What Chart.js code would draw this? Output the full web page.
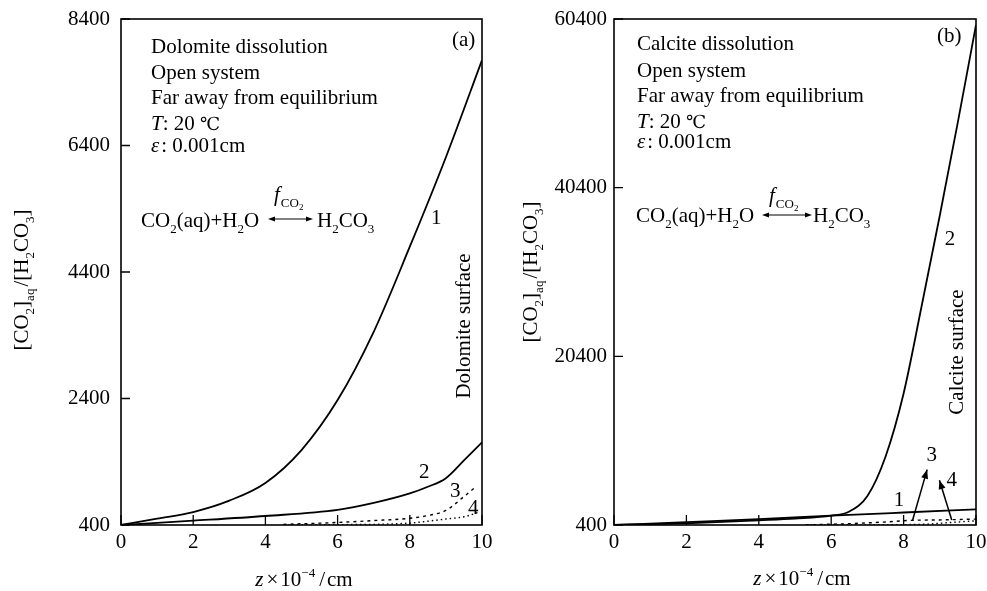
<!DOCTYPE html>
<html>
<head>
<meta charset="utf-8">
<script src="https://cdn.jsdelivr.net/npm/chart.js@4.4.1/dist/chart.umd.min.js"></script>
<style>
html, body { margin: 0; padding: 0; background: #fff; }
#wrap { position: relative; width: 987px; height: 591px; overflow: hidden; }
canvas { position: absolute; top: 0; }
#left { left: 0; }
#right { left: 493px; }
</style>
</head>
<body>
<div id="wrap">
  <canvas id="left" width="493" height="591"></canvas>
  <canvas id="right" width="494" height="591"></canvas>
</div>
<script>
const FONT = '"Liberation Serif", "Times New Roman", serif';

// Tick labels
const xTicks = [0, 2, 4, 6, 8, 10];
const dolYTicks = [400, 2400, 4400, 6400, 8400];
const calYTicks = [400, 20400, 40400, 60400];

// (a) Dolomite: z (x10^-4 cm) and [CO2]aq/[H2CO3]
const dolZ1 = [0, 1, 2, 3, 4, 5, 6, 7, 8, 9, 10];
const dolV1 = [400, 500, 605, 785, 1065, 1585, 2375, 3455, 4800, 6215, 7750];
const dolZ2 = [0, 2, 4, 6, 7, 8, 8.5, 9, 9.5, 10];
const dolV2 = [400, 468, 542, 640, 750, 900, 1005, 1140, 1420, 1707];
const dolZ3 = [4.5, 6, 7, 8, 8.5, 9, 9.5, 9.8];
const dolV3 = [410, 440, 470, 506, 550, 630, 850, 990];
const dolZ4 = [4.5, 6, 8, 8.5, 9, 9.5, 9.9];
const dolV4 = [400, 405, 430, 460, 495, 530, 600];

// (b) Calcite
const calZ1 = [0, 2, 4, 6, 8, 10];
const calV1 = [400, 740, 1090, 1500, 1880, 2250];
const calZ2 = [0, 2, 4, 5, 6, 6.5, 7, 7.5, 8, 8.5, 9, 9.5, 10];
const calV2 = [400, 600, 950, 1150, 1500, 2000, 3850, 8500, 16000, 26400, 37100, 48200, 59700];
const calZ3 = [5.3, 6.5, 7.5, 8.2, 9, 10];
const calV3 = [420, 560, 760, 950, 1000, 1100];
const calZ4 = [5.3, 7, 8.5, 9.3, 10];
const calV4 = [400, 420, 480, 700, 900];

function pts(xs, ys) {
    return xs.map((x, i) => ({ x: x, y: ys[i] }));
}

function fontFor(kind, size) {
    if (kind === 'i') return `italic ${size}px ${FONT}`;
    if (kind === 'sub' || kind === 'sup') return `${Math.round(size * 0.62)}px ${FONT}`;
    if (kind === 'sub2') return `${Math.round(size * 0.45)}px ${FONT}`;
    if (kind === 'deg') return `${Math.round(size * 0.85)}px "DejaVu Serif", ${FONT}`;
    return `${size}px ${FONT}`;
}
const SHIFT = { sub: 0.28, sup: -0.42, sub2: 0.42 };

// parts: [text, kind, extraGap]
function drawRich(ctx, parts, x, y, size, align) {
    const widths = parts.map(p => {
        ctx.font = fontFor(p[1] || '', size);
        return ctx.measureText(p[0]).width + (p[2] || 0);
    });
    const total = widths.reduce((a, b) => a + b, 0);
    let cx = align === 'center' ? x - total / 2 : x;
    ctx.textAlign = 'left';
    ctx.textBaseline = 'alphabetic';
    ctx.fillStyle = '#000';
    parts.forEach((p, i) => {
        ctx.font = fontFor(p[1] || '', size);
        ctx.fillText(p[0], cx, y + (SHIFT[p[1]] || 0) * size);
        cx += widths[i];
    });
}

function arrowHead(ctx, x0, y0, x1, y1, len, half) {
    const a = Math.atan2(y1 - y0, x1 - x0);
    const c = Math.cos(a), s = Math.sin(a);
    ctx.beginPath();
    ctx.moveTo(x1, y1);
    ctx.lineTo(x1 - len * c + half * s, y1 - len * s - half * c);
    ctx.lineTo(x1 - len * c - half * s, y1 - len * s + half * c);
    ctx.closePath();
    ctx.fill();
}

// Frame around the plot and inward tick marks
const framePlugin = {
    id: 'frame',
    afterDraw(chart) {
        const { ctx, chartArea: a, scales } = chart;
        ctx.save();
        ctx.strokeStyle = '#000';
        ctx.lineWidth = 1.6;
        ctx.strokeRect(a.left, a.top, a.right - a.left, a.bottom - a.top);
        ctx.lineWidth = 1.3;
        ctx.beginPath();
        scales.x.ticks.forEach(t => {
            const px = scales.x.getPixelForValue(t.value);
            ctx.moveTo(px, a.bottom);
            ctx.lineTo(px, a.bottom - 10);
        });
        scales.y.ticks.forEach(t => {
            const py = scales.y.getPixelForValue(t.value);
            ctx.moveTo(a.left, py);
            ctx.lineTo(a.left + 9, py);
        });
        ctx.stroke();
        ctx.restore();
    }
};

// Text annotations for each panel
function notesPlugin(n) {
    return {
        id: 'notes',
        afterDraw(chart) {
            const { ctx, scales } = chart;
            const X = v => scales.x.getPixelForValue(v);
            const Y = v => scales.y.getPixelForValue(v);
            const S = 21;
            ctx.save();
            // condition block
            n.lines.forEach((ln, i) => drawRich(ctx, ln, n.blockX, n.blockY[i], S));
            drawRich(ctx, [[n.tag]], n.tagX, n.tagY, S);
            // reaction
            drawRich(ctx, [['CO'], ['2', 'sub'], ['(aq)+H'], ['2', 'sub'], ['O']], n.rx, n.ry, S);
            drawRich(ctx, [['f', 'i', 1], ['CO', 'sub'], ['2', 'sub2']], n.fx, n.fy, S);
            drawRich(ctx, [['H'], ['2', 'sub'], ['CO'], ['3', 'sub']], n.hx, n.ry, S);
            ctx.strokeStyle = '#000';
            ctx.fillStyle = '#000';
            ctx.lineWidth = 1;
            ctx.beginPath();
            ctx.moveTo(n.ax0 + 3, n.ay);
            ctx.lineTo(n.ax1 - 3, n.ay);
            ctx.stroke();
            arrowHead(ctx, n.ax1, n.ay, n.ax0, n.ay, 7, 2.5);
            arrowHead(ctx, n.ax0, n.ay, n.ax1, n.ay, 7, 2.5);
            // surface label
            ctx.save();
            ctx.translate(n.sx, n.sy);
            ctx.rotate(-Math.PI / 2);
            ctx.font = `${S}px ${FONT}`;
            ctx.textAlign = 'center';
            ctx.textBaseline = 'middle';
            ctx.fillText(n.surface, 0, 0);
            ctx.restore();
            // curve labels
            ctx.font = `${S}px ${FONT}`;
            ctx.textAlign = 'center';
            ctx.textBaseline = 'middle';
            n.labels.forEach(l => ctx.fillText(l[0], X(l[1]), Y(l[2])));
            // arrows to curve labels
            ctx.lineWidth = 1.5;
            (n.arrows || []).forEach(ar => {
                const x0 = X(ar[0]), y0 = Y(ar[1]), x1 = X(ar[2]), y1 = Y(ar[3]);
                ctx.beginPath();
                ctx.moveTo(x0, y0);
                ctx.lineTo(x1, y1);
                ctx.stroke();
                arrowHead(ctx, x0, y0, x1, y1, 9, 3.5);
            });
            // axis titles
            ctx.save();
            ctx.translate(n.ytx, n.yty);
            ctx.rotate(-Math.PI / 2);
            drawRich(ctx, [['[CO'], ['2', 'sub'], [']'], ['aq', 'sub', 2], ['/[H'], ['2', 'sub'], ['CO'], ['3', 'sub'], [']']], 0, 7, S, 'center');
            ctx.restore();
            drawRich(ctx, [['z', 'i', 3], ['×', '', 2], ['10'], ['−4', 'sup', 4], ['/', '', 2], ['cm']], n.xtx, n.xty, S, 'center');
            ctx.restore();
        }
    };
}

function lineSet(xs, ys, dash, width) {
    return {
        data: pts(xs, ys),
        borderColor: '#000',
        borderWidth: width || 1.8,
        borderDash: dash || [],
        pointRadius: 0,
        fill: false,
        cubicInterpolationMode: 'monotone'
    };
}

function makePanel(id, yTicks, yMax, yPad, datasets, notes) {
    return new Chart(document.getElementById(id), {
        type: 'line',
        data: { datasets: datasets },
        options: {
            responsive: false,
            animation: false,
            events: [],
            layout: { padding: { top: 19, right: 11, left: 0, bottom: 0 } },
            plugins: { legend: { display: false }, tooltip: { enabled: false } },
            scales: {
                x: {
                    type: 'linear', min: 0, max: 10,
                    afterBuildTicks: s => { s.ticks = xTicks.map(v => ({ value: v })); },
                    afterFit: s => { s.height = 66; s.paddingLeft = 0; s.paddingRight = 0; },
                    grid: { display: false, drawTicks: false },
                    border: { display: false },
                    ticks: { color: '#000', padding: 5, maxRotation: 0, font: { family: FONT, size: 21 }, callback: v => String(v) }
                },
                y: {
                    type: 'linear', min: 400, max: yMax,
                    afterBuildTicks: s => { s.ticks = yTicks.map(v => ({ value: v })); },
                    afterFit: s => { s.width = 121; s.paddingTop = 0; s.paddingBottom = 0; },
                    grid: { display: false, drawTicks: false },
                    border: { display: false },
                    ticks: { color: '#000', padding: yPad, font: { family: FONT, size: 21 }, callback: v => String(v) }
                }
            }
        },
        plugins: [framePlugin, notesPlugin(notes)]
    });
}

const condLines = name => [
    [[name]],
    [['Open system']],
    [['Far away from equilibrium']],
    [['T', 'i'], [': 20 '], ['℃', 'deg']],
    [['ε', 'i', 2], [': 0.001cm']]
];

makePanel('left', dolYTicks, 8400, 11, [
    lineSet(dolZ1, dolV1),
    lineSet(dolZ2, dolV2),
    lineSet(dolZ3, dolV3, [3, 4], 1.4),
    lineSet(dolZ4, dolV4, [1.5, 3], 1.4)
], {
    lines: condLines('Dolomite dissolution'),
    blockX: 151, blockY: [53, 79, 104, 130, 152],
    tag: '(a)', tagX: 452, tagY: 46,
    rx: 141, ry: 227, fx: 274, fy: 201, hx: 317, ax0: 268, ax1: 313, ay: 219,
    surface: 'Dolomite surface', sx: 464, sy: 326,
    labels: [['1', 8.73, 5251], ['2', 8.40, 1237], ['3', 9.26, 937], ['4', 9.76, 669]],
    ytx: 21, yty: 280, xtx: 304, xty: 586
});

makePanel('right', calYTicks, 60400, 7, [
    lineSet(calZ1, calV1),
    lineSet(calZ2, calV2),
    lineSet(calZ3, calV3, [3, 4], 1.4),
    lineSet(calZ4, calV4, [1.5, 3], 1.4)
], {
    lines: condLines('Calcite dissolution'),
    blockX: 144, blockY: [50, 77, 102, 128, 148],
    tag: '(b)', tagX: 444, tagY: 42,
    rx: 143, ry: 222, fx: 276, fy: 202, hx: 320, ax0: 269, ax1: 319, ay: 215,
    surface: 'Calcite surface', sx: 464, sy: 352,
    labels: [['2', 9.28, 34230], ['1', 7.87, 3350], ['3', 8.78, 8660], ['4', 9.33, 5710]],
    arrows: [[8.25, 990, 8.65, 6970], [9.33, 990, 8.99, 5710]],
    ytx: 37, yty: 272, xtx: 309, xty: 585
});
</script>
</body>
</html>
